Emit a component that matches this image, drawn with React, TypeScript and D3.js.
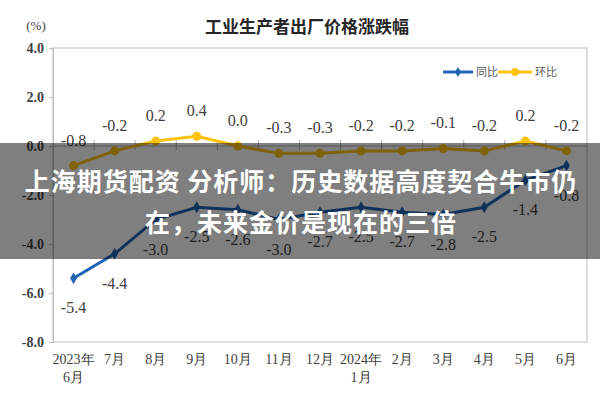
import React, { useRef, useEffect } from 'react';
import * as d3 from 'd3';

const months = ['2023年\n6月', '7月', '8月', '9月', '10月', '11月', '12月', '2024年\n1月', '2月', '3月', '4月', '5月', '6月'];
const yoy = [-5.4, -4.4, -3.0, -2.5, -2.6, -3.0, -2.7, -2.5, -2.7, -2.8, -2.5, -1.4, -0.8];
const mom = [-0.8, -0.2, 0.2, 0.4, 0.0, -0.3, -0.3, -0.2, -0.2, -0.1, -0.2, 0.2, -0.2];
const yTicks = [4, 2, 0, -2, -4, -6, -8];

const title = '工业生产者出厂价格涨跌幅';
const bannerLines = ['上海期货配资 分析师：历史数据高度契合牛市仍', '在，未来金价是现在的三倍'];

const BLUE = '#1f64b4';
const YELLOW = '#ffc20e';

// plain hyphen minus like the source chart
const fmt = (d) => (+d).toFixed(1);

function App() {
    const ref = useRef(null);

    useEffect(() => {
        const width = 600;
        const height = 400;
        const left = 53, right = 587, top = 48, bottom = 342;

        const svg = d3.select(ref.current);
        svg.selectAll('*').remove();
        svg.attr('width', width).attr('height', height);

        svg.append('rect').attr('width', width).attr('height', height).attr('fill', '#fff');

        const x = d3.scaleBand().domain(months).range([left, right]);
        const y = d3.scaleLinear().domain([-8, 4]).range([bottom, top]);
        const cx = (d) => x(d) + x.bandwidth() / 2;

        // plot frame
        svg.append('rect')
            .attr('x', left).attr('y', top)
            .attr('width', right - left).attr('height', bottom - top)
            .attr('fill', 'none').attr('stroke', '#c8c8c8').attr('stroke-width', 1.2);

        // y axis
        const yAxis = d3.axisLeft(y).tickValues(yTicks).tickSize(4).tickFormat(fmt);
        const ya = svg.append('g').attr('transform', `translate(${left},0)`).call(yAxis);
        ya.select('.domain').attr('stroke', '#bbb');
        ya.selectAll('line').attr('stroke', '#bbb');
        ya.selectAll('text')
            .attr('font-family', 'Liberation Serif').attr('font-size', 14)
            .attr('font-weight', 'bold').attr('fill', '#404040').attr('dx', -2);

        // zero line with category ticks
        svg.append('line')
            .attr('x1', left).attr('x2', right).attr('y1', y(0)).attr('y2', y(0))
            .attr('stroke', '#b0b0b0').attr('stroke-width', 1);
        svg.append('g').selectAll('line')
            .data(months.slice(1))
            .enter().append('line')
            .attr('x1', (d) => x(d)).attr('x2', (d) => x(d))
            .attr('y1', y(0) - 6).attr('y2', y(0) + 4)
            .attr('stroke', '#b0b0b0');

        // x labels
        const xl = svg.append('g').selectAll('text')
            .data(months).enter().append('text')
            .attr('x', cx).attr('y', bottom + 22)
            .attr('text-anchor', 'middle')
            .attr('font-family', 'Liberation Serif').attr('font-size', 14)
            .attr('fill', '#404040');
        xl.each(function (d) {
            const parts = d.split('\n');
            d3.select(this).selectAll('tspan').data(parts).enter().append('tspan')
                .attr('x', cx(d)).attr('dy', (p, i) => (i === 0 ? 0 : 18)).text((p) => p);
        });

        const lineGen = (vals) => d3.line().x((d, i) => cx(months[i])).y((d) => y(d))(vals);

        // yellow series
        svg.append('path').attr('d', lineGen(mom))
            .attr('fill', 'none').attr('stroke', YELLOW).attr('stroke-width', 3);
        svg.append('g').selectAll('circle').data(mom).enter().append('circle')
            .attr('cx', (d, i) => cx(months[i])).attr('cy', (d) => y(d))
            .attr('r', 4.5).attr('fill', YELLOW);
        svg.append('g').selectAll('text').data(mom).enter().append('text')
            .attr('x', (d, i) => cx(months[i])).attr('y', (d) => y(d) - 20)
            .attr('text-anchor', 'middle')
            .attr('font-family', 'Liberation Serif').attr('font-size', 16)
            .attr('fill', '#404040')
            .text(fmt);

        // blue series
        svg.append('path').attr('d', lineGen(yoy))
            .attr('fill', 'none').attr('stroke', BLUE).attr('stroke-width', 3);
        svg.append('g').selectAll('path').data(yoy).enter().append('path')
            .attr('d', d3.symbol(d3.symbolDiamond, 40))
            .attr('transform', (d, i) => `translate(${cx(months[i])},${y(d)})`)
            .attr('fill', BLUE);
        svg.append('g').selectAll('text').data(yoy).enter().append('text')
            .attr('x', (d, i) => cx(months[i])).attr('y', (d) => y(d) + 35)
            .attr('text-anchor', 'middle')
            .attr('font-family', 'Liberation Serif').attr('font-size', 16)
            .attr('fill', '#404040')
            .text(fmt);

        // legend
        const lg = svg.append('g').attr('transform', 'translate(443,72)');
        lg.append('line').attr('x1', 0).attr('x2', 30).attr('stroke', BLUE).attr('stroke-width', 3);
        lg.append('path').attr('d', d3.symbol(d3.symbolDiamond, 30)).attr('transform', 'translate(15,0)').attr('fill', BLUE);
        lg.append('text').attr('x', 33).attr('y', 4).text('同比');
        lg.append('line').attr('x1', 55).attr('x2', 89).attr('stroke', YELLOW).attr('stroke-width', 3);
        lg.append('circle').attr('cx', 72).attr('r', 4).attr('fill', YELLOW);
        lg.append('text').attr('x', 92).attr('y', 4).text('环比');
        lg.selectAll('text').attr('font-family', 'Noto Sans CJK SC').attr('font-size', 11).attr('fill', '#595959');

        // title + unit
        svg.append('text').attr('x', 307).attr('y', 33).attr('text-anchor', 'middle')
            .attr('font-family', 'Noto Sans CJK SC').attr('font-size', 17).attr('font-weight', 'bold')
            .attr('fill', '#262626').text(title);
        svg.append('text').attr('x', 36).attr('y', 30).attr('text-anchor', 'middle')
            .attr('font-family', 'Liberation Serif').attr('font-size', 13)
            .attr('fill', '#404040').text('(%)');

        // banner overlay
        svg.append('rect').attr('x', 0).attr('y', 143).attr('width', width).attr('height', 116)
            .attr('fill', '#000').attr('fill-opacity', 0.5);
        svg.append('g').selectAll('text').data(bannerLines).enter().append('text')
            .attr('x', 301).attr('y', (d, i) => 180 + i * 41)
            .attr('dominant-baseline', 'central').attr('text-anchor', 'middle')
            .attr('font-family', 'Noto Sans CJK SC').attr('font-size', 25).attr('font-weight', 'bold')
            .attr('letter-spacing', 1).attr('fill', '#fff')
            .text((d) => d);
    }, []);

    return (
        <div>
            <svg ref={ref} style={{ display: 'block', position: 'absolute', left: 0, top: 0 }}></svg>
        </div>
    );
}

export default App;
